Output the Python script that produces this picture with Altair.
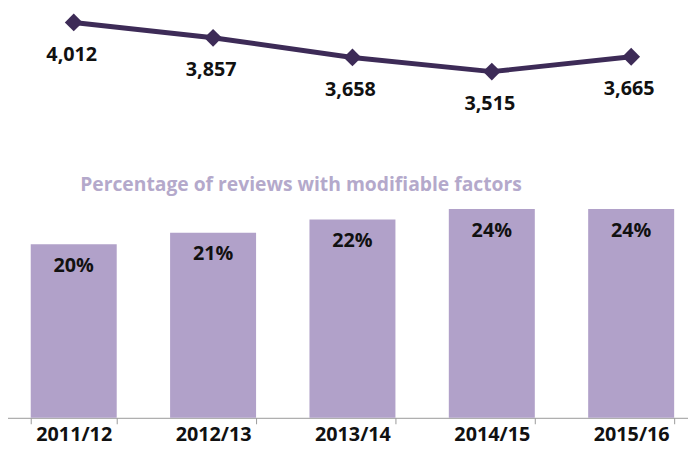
import altair as alt
import pandas as pd

years = ["2011/12", "2012/13", "2013/14", "2014/15", "2015/16"]
reviews = [4012, 3857, 3658, 3515, 3665]
pct_modifiable = [19.6, 20.9, 22.4, 23.6, 23.6]
title_text = "Percentage of reviews with modifiable factors"

df = pd.DataFrame({"year": years, "reviews": reviews, "pct": pct_modifiable})

FONT = "Open Sans"
LINE_COL = "#3d2b57"
BAR_COL = "#b1a1c9"
TITLE_COL = "#b4a9cb"

x = alt.X(
    "year:N",
    sort=years,
    scale=alt.Scale(paddingInner=0.383, paddingOuter=0.1915),
    axis=alt.Axis(
        title=None,
        labelAngle=0,
        labelFont=FONT,
        labelFontSize=20,
        labelFontWeight="bold",
        labelColor="#111111",
        labelPadding=1,
        tickBand="extent",
        tickSize=6,
        tickColor="#9a9a9a",
        domainColor="#9a9a9a",
        domainWidth=1,
        grid=False,
    ),
)

base = alt.Chart(df)

pct_y = alt.Y("pct:Q", scale=alt.Scale(domain=[0, 46]), axis=None)
bars = base.mark_bar(color=BAR_COL).encode(x=x, y=pct_y)
bar_text = (
    base.transform_calculate(lbl="format(datum.pct, '.0f') + '%'")
    .mark_text(font=FONT, fontSize=20, fontWeight="bold", color="#111111", baseline="middle", dy=22)
    .encode(x=x, y=pct_y, text="lbl:N")
)
bar_layer = alt.layer(bars, bar_text)

cnt_y = alt.Y("reviews:Q", scale=alt.Scale(domain=[12, 4132], zero=False), axis=None)
line = base.mark_line(color=LINE_COL, strokeWidth=5).encode(x=x, y=cnt_y)
pts = base.mark_point(shape="diamond", filled=True, size=324, color=LINE_COL, opacity=1).encode(x=x, y=cnt_y)
line_text = base.mark_text(
    font=FONT, fontSize=20, fontWeight="bold", color="#111111", baseline="middle", dy=33, dx=-2
).encode(x=x, y=cnt_y, text=alt.Text("reviews:Q", format=","))
line_layer = alt.layer(line, pts, line_text)

chart = (
    alt.layer(bar_layer, line_layer)
    .resolve_scale(y="independent")
    .properties(
        width=705,
        height=412,
        padding={"left": -4, "top": 0, "right": -13, "bottom": 36},
        autosize=alt.AutoSizeParams(type="none"),
        title=alt.TitleParams(
            text=title_text,
            font=FONT,
            fontSize=19.5,
            fontWeight="bold",
            color=TITLE_COL,
            anchor="middle",
            baseline="middle",
            dx=-52,
            dy=200,
        ),
    )
    .configure(background="white")
    .configure_view(stroke=None, strokeWidth=0)
)

chart.save("out.html", embed_options={"renderer": "svg", "actions": False})
